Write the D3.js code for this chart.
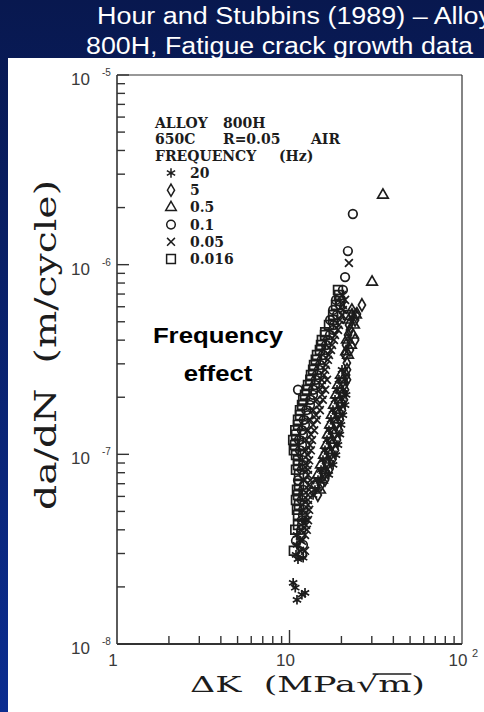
<!DOCTYPE html>
<html>
<head>
<meta charset="utf-8">
<script src="https://cdn.jsdelivr.net/npm/d3@7"></script>
<style>
  html, body { margin: 0; padding: 0; background: #0a1f6e; }
  svg { display: block; }
</style>
</head>
<body>
<div id="chart"></div>
<script>
// values: [deltaK (MPa sqrt m), da/dN (m/cycle)]
var freq20 = [[21.3,2.06e-7],[21.0,1.82e-7],[20.4,1.61e-7],[19.9,1.43e-7],[19.6,1.27e-7],[19.1,1.12e-7],
  [18.6,9.9e-8],[17.9,8.8e-8],[16.9,7.8e-8],[13.7,6.1e-8],[12.3,4.5e-8],[11.5,3.5e-8],[11.2,2.8e-8],
  [12.0,2.85e-8],[10.5,2.1e-8],[10.8,1.98e-8],[11.8,1.82e-8],[12.3,1.86e-8],[11.05,1.71e-8],
  [20.16,2.79e-7],[19.36,2.47e-7],[18.86,2.19e-7],[18.36,1.94e-7],[17.87,1.71e-7],[17.4,1.52e-7],
  [16.94,1.34e-7],[16.5,1.19e-7],[16.06,1.05e-7],[15.64,9.34e-8],[15.23,8.27e-8],[14.63,7.33e-8],
  [14.05,6.49e-8],[11.05,3.76e-8],[11.05,3.33e-8],[10.91,2.95e-8]];
var freq5 = [[26.3,6.13e-7],[24.6,5.5e-7],[24.0,5.11e-7],[22.4,4.53e-7],[24.0,4.01e-7],[22.4,3.55e-7],
  [21.5,3.03e-7],[21.3,2.62e-7],[20.7,2.32e-7],[20.2,2.06e-7],[19.6,1.82e-7],[19.1,1.61e-7],[18.6,1.43e-7],
  [18.1,1.27e-7],[17.6,1.12e-7],[17.2,9.9e-8],[16.5,8.8e-8],[15.85,7.8e-8],[15.2,6.9e-8],[14.6,6.1e-8],
  [23.03,5.43e-7],[22.13,4.81e-7],[21.84,4.26e-7],[21.26,3.77e-7],[20.98,3.34e-7],[21.54,2.79e-7],
  [21.54,2.47e-7],[20.98,2.19e-7],[20.7,1.94e-7],[20.16,1.71e-7],[19.63,1.52e-7],[19.36,1.34e-7],
  [18.86,1.19e-7],[18.36,1.05e-7],[17.64,9.34e-8],[16.94,8.27e-8],[16.06,7.33e-8]];
var freq05 = [[34.8,2.33e-6],[30.1,8.1e-7],[23.0,5.77e-7],[22.1,5.11e-7],[21.5,4.01e-7],[21.3,3.48e-7],
  [19.9,2.62e-7],[19.1,2.32e-7],[18.6,2.06e-7],[18.1,1.82e-7],[17.6,1.61e-7],[17.2,1.43e-7],[16.7,1.27e-7],
  [16.3,1.12e-7],[15.85,9.9e-8],[15.2,8.8e-8],[14.6,7.8e-8],[14.05,6.9e-8],
  [24.29,5.43e-7],[23.65,4.81e-7],[23.34,4.26e-7],[22.73,3.77e-7],[21.84,3.34e-7],[20.42,2.47e-7],
  [19.89,2.19e-7],[19.63,1.94e-7],[19.11,1.71e-7],[18.6,1.52e-7],[18.11,1.34e-7],[17.64,1.19e-7],
  [17.17,1.05e-7],[16.72,9.34e-8],[16.06,8.27e-8],[15.43,7.33e-8],[15.03,6.49e-8]];
var freq01 = [[23.3,1.85e-6],[21.8,1.18e-6],[21.0,8.6e-7],[20.4,7.36e-7],[18.6,6.52e-7],[17.9,5.77e-7],
  [17.2,5.11e-7],[17.9,4.53e-7],[16.7,4.01e-7],[16.3,3.55e-7],[15.4,3.15e-7],[14.8,2.79e-7],[14.2,2.47e-7],
  [13.7,2.19e-7],[11.2,2.19e-7],[13.2,1.94e-7],[12.5,1.71e-7],[12.1,1.52e-7],[11.8,1.34e-7],[11.35,1.19e-7],
  [11.5,1.05e-7],[12.0,9.3e-8],[11.8,8.3e-8],[11.2,7.3e-8],[12.0,6.5e-8],[11.8,5.75e-8],[12.0,5.1e-8],
  [11.8,4.5e-8],[11.7,4.0e-8],[10.9,3.5e-8],
  [19.6,6.13e-7],[18.86,5.43e-7],[18.11,4.81e-7],[17.17,4.26e-7],[16.28,3.77e-7],[15.64,3.34e-7],
  [15.03,2.96e-7],[14.43,2.62e-7],[14.05,2.32e-7],[13.69,2.06e-7],[13.15,1.82e-7],[12.8,1.61e-7],
  [12.3,1.43e-7],[11.97,1.27e-7],[11.82,1.12e-7],[11.82,9.93e-8],[11.97,8.79e-8],[12.14,7.79e-8],
  [12.14,6.9e-8],[11.97,6.11e-8],[12.14,5.41e-8],[11.97,4.79e-8],[11.82,4.24e-8],[11.66,3.76e-8],
  [11.97,3.33e-8],[11.82,2.95e-8]];
var freq005 = [[22.1,1.02e-6],[21.0,6.52e-7],[20.4,5.77e-7],[19.6,5.11e-7],[19.1,4.53e-7],[18.1,4.01e-7],
  [17.4,3.55e-7],[16.7,3.15e-7],[16.1,2.79e-7],[15.4,2.47e-7],[16.5,2.47e-7],[15.0,2.19e-7],[16.1,2.19e-7],
  [14.4,1.94e-7],[15.6,1.94e-7],[13.7,1.71e-7],[15.0,1.71e-7],[13.2,1.52e-7],[14.4,1.52e-7],[12.8,1.34e-7],
  [13.9,1.34e-7],[12.5,1.19e-7],[13.5,1.19e-7],[12.5,1.05e-7],[13.3,1.05e-7],[13.0,9.3e-8],[12.8,8.3e-8],
  [12.1,7.3e-8],[13.2,7.3e-8],[13.0,6.5e-8],[12.8,5.75e-8],[13.0,5.1e-8],[12.8,4.5e-8],[12.6,4.0e-8],
  [11.8,3.5e-8],[11.5,3.1e-8],[12.3,3.1e-8],
  [20.16,6.92e-7],[20.4,6.13e-7],[20.16,5.43e-7],[19.36,4.81e-7],[18.36,4.26e-7],[17.64,3.77e-7],
  [16.94,3.34e-7],[16.28,2.96e-7],[15.85,2.62e-7],[15.43,2.32e-7],[15.43,2.06e-7],[14.83,1.82e-7],
  [14.24,1.61e-7],[13.69,1.43e-7],[13.32,1.27e-7],[13.15,1.12e-7],[12.8,9.93e-8],[12.63,8.79e-8],
  [12.8,7.79e-8],[12.97,6.9e-8],[12.8,6.11e-8],[12.8,5.41e-8],[12.63,4.79e-8],[12.46,4.24e-8],
  [12.3,3.76e-8]];
var freq0016 = [[19.1,7.36e-7],[19.6,6.44e-7],[21.8,5.43e-7],[17.9,5.11e-7],[16.1,4.4e-7],[15.4,4.01e-7],
  [15.0,3.55e-7],[14.2,3.15e-7],[13.7,2.79e-7],[13.2,2.47e-7],[12.6,2.19e-7],[12.0,1.94e-7],[11.5,1.71e-7],
  [11.2,1.52e-7],[10.8,1.34e-7],[10.5,1.19e-7],[10.6,1.05e-7],[11.2,9.3e-8],[10.9,8.3e-8],[11.05,6.5e-8],
  [10.9,5.75e-8],[11.05,5.1e-8],[10.8,4.0e-8],[10.6,3.1e-8],
  [19.36,6.92e-7],[18.6,6.13e-7],[17.9,5.43e-7],[16.94,4.81e-7],[16.06,4.26e-7],[15.23,3.77e-7],
  [14.43,3.34e-7],[13.87,2.96e-7],[13.32,2.62e-7],[12.8,2.32e-7],[12.3,2.06e-7],[11.82,1.82e-7],
  [11.51,1.61e-7],[11.2,1.43e-7],[10.91,1.27e-7],[10.76,1.12e-7],[10.91,9.93e-8],[11.2,8.79e-8],
  [11.35,7.79e-8],[11.35,6.9e-8],[11.2,6.11e-8],[11.35,5.41e-8],[11.2,4.79e-8],[11.2,4.24e-8]];

var freqLabels = ['20', '5', '0.5', '0.1', '0.05', '0.016'];
var xLabelVals = [1, 10, 100];
var xLabelText = ['1', '10', '10'];
var xLabelSup = ['', '', '2'];
var yLabelVals = [1e-5, 1e-6, 1e-7, 1e-8];
var yLabelSup = ['-5', '-6', '-7', '-8'];

var W = 484, H = 712;
var ink = '#1c1c1c';

var svg = d3.select('#chart').append('svg')
  .attr('width', W)
  .attr('height', H);

// slide background
var grad = svg.append('defs').append('linearGradient')
  .attr('id', 'bg').attr('x1', 0).attr('y1', 0).attr('x2', 0).attr('y2', 1);
grad.append('stop').attr('offset', '0%').attr('stop-color', '#08184f');
grad.append('stop').attr('offset', '100%').attr('stop-color', '#0b2d90');
svg.append('rect').attr('width', W).attr('height', H).attr('fill', 'url(#bg)');

// title
var title = svg.append('g')
  .attr('fill', '#fff')
  .style('font-family', '"Liberation Sans", Arial, sans-serif')
  .style('font-size', '23px');
title.append('text').attr('x', 97).attr('y', 24)
  .attr('textLength', 395).attr('lengthAdjust', 'spacingAndGlyphs')
  .text('Hour and Stubbins (1989) \u2013 Alloy');
title.append('text').attr('x', 86).attr('y', 54)
  .attr('textLength', 387).attr('lengthAdjust', 'spacingAndGlyphs')
  .text('800H, Fatigue crack growth data');

// white scanned page
svg.append('rect').attr('x', 8).attr('y', 58).attr('width', W - 8).attr('height', H - 58).attr('fill', '#fff');

var x = d3.scaleLog().domain([1, 100]).range([117, 462]);
var y = d3.scaleLog().domain([1e-8, 1e-5]).range([644, 75]);

function isDecade(v) {
  var l = Math.log10(v);
  return Math.abs(l - Math.round(l)) < 1e-6;
}

// frame
var frame = svg.append('g').attr('stroke', '#333').attr('fill', 'none');
frame.append('line').attr('x1', x(1)).attr('x2', x(100)).attr('y1', y(1e-5)).attr('y2', y(1e-5)).attr('stroke-width', 1.2);
frame.append('line').attr('x1', x(100)).attr('x2', x(100)).attr('y1', y(1e-5)).attr('y2', y(1e-8)).attr('stroke-width', 1.2);
frame.append('line').attr('x1', x(1)).attr('x2', x(1)).attr('y1', y(1e-5)).attr('y2', y(1e-8)).attr('stroke-width', 1.6);
frame.append('line').attr('x1', x(1)).attr('x2', x(100)).attr('y1', y(1e-8)).attr('y2', y(1e-8)).attr('stroke-width', 2);

// ticks pointing inward
frame.selectAll('.yt').data(y.ticks()).enter().append('line')
  .attr('x1', x(1)).attr('x2', d => x(1) + (isDecade(d) ? 12 : 8))
  .attr('y1', d => y(d)).attr('y2', d => y(d)).attr('stroke-width', 1.4);
frame.selectAll('.xt').data(x.ticks().filter(d => d > 1 && d < 100)).enter().append('line')
  .attr('x1', d => x(d)).attr('x2', d => x(d))
  .attr('y1', y(1e-8)).attr('y2', d => y(1e-8) - (isDecade(d) ? 14 : 8)).attr('stroke-width', 1.4);

// tick labels
var lab = svg.append('g').attr('fill', '#3a3a3a')
  .style('font-family', '"Liberation Sans", Arial, sans-serif');
yLabelVals.forEach(function(v, i) {
  lab.append('text').attr('x', 90).attr('y', y(v) + 10).attr('text-anchor', 'end')
    .style('font-size', '17px').text('10');
  lab.append('text').attr('x', 102).attr('y', y(v) + 1)
    .style('font-size', '10px').text(yLabelSup[i]);
});
xLabelVals.forEach(function(v, i) {
  lab.append('text').attr('x', x(v) - 4).attr('y', 666).attr('text-anchor', 'middle')
    .style('font-size', '17px').text(xLabelText[i]);
  if (xLabelSup[i]) {
    lab.append('text').attr('x', x(v) + 10).attr('y', 657)
      .style('font-size', '11px').text(xLabelSup[i]);
  }
});

// axis titles
var xLabel = '\u0394K  (MPa\u221Am)';
var xt = svg.append('text').attr('x', 190).attr('y', 692).attr('fill', ink)
  .attr('textLength', 235).attr('lengthAdjust', 'spacingAndGlyphs')
  .style('white-space', 'pre')
  .style('font-family', '"DejaVu Serif", serif').style('font-size', '22px')
  .text(xLabel);
// bar over the root sign
var n = xt.node().getNumberOfChars();
var iRoot = Math.min(xLabel.indexOf('\u221A'), n - 3);
var e1 = xt.node().getExtentOfChar(iRoot), e2 = xt.node().getExtentOfChar(iRoot + 1);
svg.append('line').attr('x1', e1.x + e1.width * 0.75).attr('x2', e2.x + e2.width)
  .attr('y1', e1.y + 2).attr('y2', e1.y + 2).attr('stroke', ink).attr('stroke-width', 1.5);

svg.append('text').attr('transform', 'translate(56,345) rotate(-90)')
  .attr('text-anchor', 'middle').attr('fill', ink)
  .attr('textLength', 330).attr('lengthAdjust', 'spacingAndGlyphs')
  .style('white-space', 'pre')
  .style('font-family', '"DejaVu Serif", serif').style('font-size', '30px')
  .text('da/dN  (m/cycle)');

// markers
var shapes = [
  d3.symbol().type(d3.symbolAsterisk).size(64),
  d3.symbol().type(d3.symbolDiamond).size(44),
  d3.symbol().type(d3.symbolTriangle2).size(80),
  d3.symbol().type(d3.symbolCircle).size(58),
  d3.symbol().type(d3.symbolTimes).size(42),
  d3.symbol().type(d3.symbolSquare2).size(98)
];
var series = [freq20, freq5, freq05, freq01, freq005, freq0016];

var marks = svg.append('g').attr('fill', 'none').attr('stroke', ink).attr('stroke-width', 1.7);
series.forEach(function(s, i) {
  marks.selectAll('.s' + i).data(s).enter().append('path')
    .attr('class', 's' + i)
    .attr('transform', d => 'translate(' + x(d[0]) + ',' + y(d[1]) + ')')
    .attr('d', shapes[i]());
});

// legend block
var leg = svg.append('g').attr('fill', ink)
  .style('font-family', '"DejaVu Serif", serif').style('font-weight', 'bold').style('font-size', '14px');
leg.append('text').attr('x', 155).attr('y', 128).text('ALLOY');
leg.append('text').attr('x', 223).attr('y', 128).text('800H');
leg.append('text').attr('x', 155).attr('y', 144).text('650C');
leg.append('text').attr('x', 223).attr('y', 144).text('R=0.05');
leg.append('text').attr('x', 311).attr('y', 144).text('AIR');
leg.append('text').attr('x', 155).attr('y', 161).text('FREQUENCY');
leg.append('text').attr('x', 279).attr('y', 161).text('(Hz)');
freqLabels.forEach(function(f, i) {
  var by = 178 + i * 17.2;
  leg.append('path').attr('transform', 'translate(171,' + (by - 5) + ')')
    .attr('d', shapes[i]()).attr('fill', 'none').attr('stroke', ink).attr('stroke-width', 1.5);
  leg.append('text').attr('x', 190).attr('y', by).text(f);
});

// slide annotation
var note = svg.append('g').attr('fill', '#000')
  .style('font-family', '"Liberation Sans", Arial, sans-serif').style('font-weight', 'bold').style('font-size', '23px');
note.append('text').attr('transform', 'translate(218,343) scale(1.12,1)').attr('text-anchor', 'middle').text('Frequency');
note.append('text').attr('transform', 'translate(218,381) scale(1.12,1)').attr('text-anchor', 'middle').text('effect');
</script>
</body>
</html>
